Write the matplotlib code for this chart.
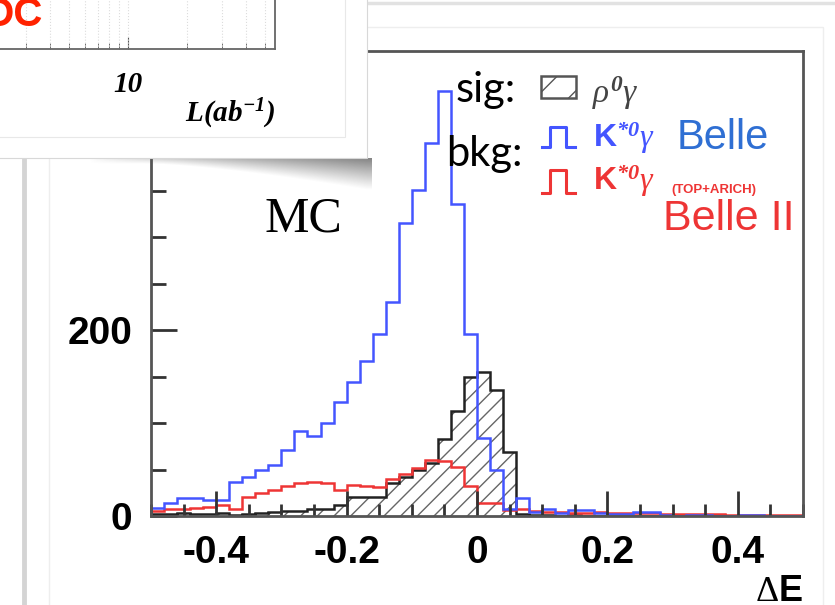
import numpy as np
import matplotlib
matplotlib.use('Agg')
import matplotlib.pyplot as plt
from matplotlib.ticker import MultipleLocator, FixedLocator, NullFormatter
from matplotlib.patches import Rectangle

W, H = 835, 605

# Delta E binning (50 bins of 0.02)
de_edges = np.linspace(-0.5, 0.5, 51)

# bkg K*0 gamma, Belle PID (blue)
kstar_belle = [9, 14, 19, 19, 17, 17, 37, 42, 50, 55,
               71, 91, 86, 100, 123, 144, 167, 196, 230, 315,
               351, 401, 457, 335, 196, 84, 49, 8, 19, 4,
               7, 3, 6, 6, 3, 2, 2, 4, 4, 1,
               0, 1, 1, 0, 0, 1, 1, 0, 0, 0]
# bkg K*0 gamma, Belle II TOP+ARICH (red)
kstar_belle2 = [5, 7, 7, 9, 10, 12, 8, 20, 25, 28,
                32, 36, 37, 35, 28, 33, 32, 31, 40, 45,
                52, 60, 59, 53, 32, 14, 14, 6, 7, 5,
                4, 4, 3, 3, 4, 3, 3, 3, 3, 2,
                2, 2, 2, 2, 1, 1, 1, 1, 1, 1]
# sig rho0 gamma (hatched)
rho_sig = [2, 2, 3, 2, 2, 3, 1, 2, 3, 4,
           5, 5, 7, 8, 12, 20, 20, 20, 35, 42,
           50, 57, 83, 113, 149, 155, 135, 69, 2, 1,
           1, 0, 1, 0, 0, 0, 0, 0, 0, 0,
           0, 0, 0, 0, 0, 0, 0, 0, 0, 0]

xticks = [-0.4, -0.2, 0, 0.2, 0.4]
xticklabels = ['-0.4', '-0.2', '0', '0.2', '0.4']
yticks = [0, 200, 400]
yticklabels = ['0', '200', '400']

# piece of the covering inset plot (luminosity scan)
inset_ticks = [10]
inset_ticklabels = ['10']
inset_grid = [3, 4, 5, 6, 7, 8, 9, 10, 20, 30, 40, 50]
inset_curve_x = [50, 56]
inset_curve_y = [0.96, 1.08]

blue = '#4455ff'
red = '#ee3535'
dark = '#222222'

plt.rcParams['mathtext.fontset'] = 'custom'
plt.rcParams['mathtext.rm'] = 'Liberation Serif'
plt.rcParams['mathtext.it'] = 'Liberation Serif:italic'
plt.rcParams['mathtext.bf'] = 'Liberation Serif:italic:bold'
plt.rcParams['mathtext.sf'] = 'Liberation Sans:bold'
plt.rcParams['hatch.linewidth'] = 1.0


def fx(px):
    return px / W


def fy(py):
    return 1 - py / H


fig = plt.figure(figsize=(W / 100, H / 100), dpi=100)

# ---- main histogram ----
ax = fig.add_axes([fx(151), fy(516), (803 - 151) / W, (516 - 51) / H])
ax.stairs(rho_sig, de_edges, fill=True, facecolor='none', edgecolor='#666666',
          hatch='//', linewidth=0)
ax.stairs(rho_sig, de_edges, color=dark, lw=1.8)
ax.stairs(kstar_belle2, de_edges, color=red, lw=1.8)
ax.stairs(kstar_belle, de_edges, color=blue, lw=1.8)
ax.set_xlim(-0.5, 0.5)
ax.set_ylim(0, 500)

ax.xaxis.set_major_locator(FixedLocator(xticks))
ax.set_xticklabels(xticklabels)
ax.xaxis.set_minor_locator(MultipleLocator(0.05))
ax.yaxis.set_major_locator(FixedLocator(yticks))
ax.set_yticklabels(yticklabels)
ax.yaxis.set_minor_locator(MultipleLocator(50))
ax.tick_params(which='both', direction='in', color='#333333', width=2)
ax.tick_params(axis='x', which='major', length=18, pad=13.5, labelsize=28)
ax.tick_params(axis='x', which='minor', length=9)
ax.tick_params(axis='y', which='major', length=19, pad=13.5, labelsize=28)
ax.tick_params(axis='y', which='minor', length=11)
for lbl in ax.get_xticklabels() + ax.get_yticklabels():
    lbl.set_fontweight('bold')
    lbl.set_family('Liberation Sans')
for sp in ax.spines.values():
    sp.set_color('#555555')
    sp.set_linewidth(2)

# ---- overlay in pixel coordinates ----
deco = fig.add_axes([0, 0, 1, 1], zorder=5)
deco.patch.set_alpha(0)
deco.axis('off')

# slide frame lines
deco.plot([24, 24], [0, H], color='#d4d4d4', lw=3.5, zorder=1)
deco.add_patch(Rectangle((49, 27), 774, 600, facecolor='none', edgecolor='#eeeeee',
                         lw=1, zorder=1))
deco.plot([367, W], [3, 3], color='#e2e2e2', lw=2.5, zorder=1)

# shadow under the inset panel
xs = np.arange(90, 372) + 0.5
ys = np.arange(158, 196) + 0.5
X, Y = np.meshgrid(xs, ys)
depth = 6 + 26 * np.clip((X - 150) / 217, 0, 1) ** 1.4
tt = np.clip(1 - (Y - 158) / depth, 0, 1)
alpha = 0.75 * tt ** 1.1 * np.clip((X - 90) / 277, 0, 1) ** 0.7
img = np.zeros(X.shape + (4,))
img[..., :3] = 0.35
img[..., 3] = alpha
deco.imshow(img, extent=(90, 372, 196, 158), interpolation='bilinear', aspect='auto',
            zorder=2)

# inset panel
deco.add_patch(Rectangle((-5, -5), 372, 163, facecolor='white', edgecolor='#d8d8d8',
                         lw=0.8, zorder=3))
deco.add_patch(Rectangle((-5, -5), 350, 142, facecolor='none', edgecolor='#e8e8e8',
                         lw=0.8, zorder=3.1))
deco.set_xlim(0, W)
deco.set_ylim(H, 0)

# legend-like annotations
deco.text(456, 102, 'sig:', family='Lato', fontsize=30, color='black', zorder=4)
deco.text(446, 166, 'bkg:', family='Lato', fontsize=30, color='black', zorder=4)
deco.add_patch(Rectangle((541, 76), 35, 22, facecolor='none', edgecolor='#555555',
                         lw=1.8, hatch='/', zorder=4))
deco.text(592, 103, r'$\rho^{\mathbf{0}}\gamma$', color='#444444', fontsize=24, zorder=4)

deco.plot([542, 550, 550, 566, 566, 575], [147, 147, 127, 127, 147, 147],
          color=blue, lw=2.2, zorder=4)
deco.text(593, 147, r'$\mathsf{K}^{\mathbf{*0}}\gamma$', color=blue, fontsize=23, zorder=4)
deco.text(677, 149, 'Belle', family='Liberation Sans', fontsize=30, color='#2f6fd3',
          zorder=4)

deco.plot([542, 550, 550, 566, 566, 575], [193, 193, 170, 170, 193, 193],
          color=red, lw=2.2, zorder=4)
deco.text(593, 190, r'$\mathsf{K}^{\mathbf{*0}}\gamma$', color=red, fontsize=23, zorder=4)
deco.text(671, 193, '(TOP+ARICH)', family='Liberation Sans', fontweight='bold',
          fontsize=9.5, color=red, zorder=4)
deco.text(663, 230, 'Belle II', family='Liberation Sans', fontsize=31, color=red,
          zorder=4)

deco.text(265, 232, 'MC', family='Liberation Serif', fontsize=36, color='black', zorder=4)
deco.text(803, 574, r'$\Delta$E', family='Liberation Sans', fontweight='bold',
          fontsize=26, ha='right', va='top', zorder=4)

# ---- partially visible inset plot ----
ax_in = fig.add_axes([fx(-200), fy(49), 475 / W, 149 / H], zorder=6)
ax_in.patch.set_visible(False)
ax_in.set_xscale('log')
ax_in.set_xlim(0.212, 56.2)
ax_in.set_ylim(0, 1)
ax_in.plot(inset_curve_x, inset_curve_y, color='#ff2200', lw=2, clip_on=False)
for g in inset_grid:
    ax_in.axvline(g, color='#dcdcdc', lw=0.8, ls=':')
ax_in.xaxis.set_major_locator(FixedLocator(inset_ticks))
ax_in.set_xticklabels(inset_ticklabels)
ax_in.xaxis.set_minor_locator(FixedLocator([g for g in inset_grid if g != 10]))
ax_in.xaxis.set_minor_formatter(NullFormatter())
ax_in.set_yticks([])
ax_in.tick_params(axis='x', which='both', direction='in', color='#555555')
ax_in.tick_params(axis='x', which='major', length=9, pad=16, labelsize=21)
ax_in.tick_params(axis='x', which='minor', length=4)
for lbl in ax_in.get_xticklabels():
    lbl.set_family('Liberation Serif')
    lbl.set_fontweight('bold')
    lbl.set_fontstyle('italic')
for side in ['top', 'left']:
    ax_in.spines[side].set_visible(False)
for side in ['bottom', 'right']:
    ax_in.spines[side].set_color('#666666')
    ax_in.spines[side].set_linewidth(1.3)
ax_in.text(275, 97, r'$\mathbf{L(ab^{-1})}$', transform=deco.transData,
           ha='right', va='top', fontsize=21)
ax_in.text(43, 26, 'OC', transform=deco.transData, family='Liberation Sans',
           fontweight='bold', fontsize=29, color='#ff2200', ha='right', va='baseline')

fig.savefig('out.png', dpi=100)
